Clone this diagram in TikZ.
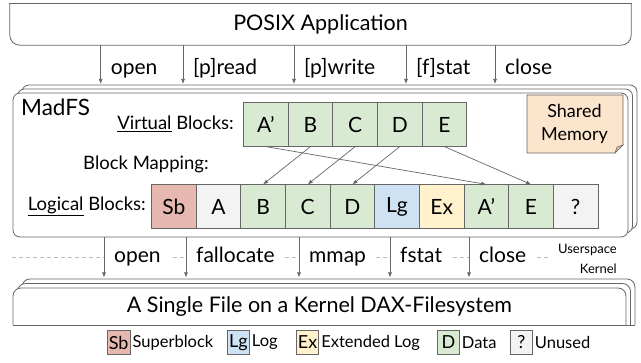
\documentclass[tikz,border=0pt]{standalone}
\usepackage{fontspec}
\setmainfont{Lato}
\usetikzlibrary{calc,arrows.meta}

\definecolor{edge}{HTML}{666666}
\definecolor{datafill}{HTML}{D9EAD3}
\definecolor{sbfill}{HTML}{E6B8AF}
\definecolor{lgfill}{HTML}{CFE2F3}
\definecolor{exfill}{HTML}{FFF2CC}
\definecolor{unfill}{HTML}{F3F3F3}
\definecolor{shmfill}{HTML}{FCE5CD}
\definecolor{shmfold}{HTML}{D9C3AC}
\definecolor{sepline}{HTML}{BBBBBB}

\tikzset{
  outline/.style={draw=edge, line width=0.8pt},
  blk/.style={draw=edge, line width=0.7pt, minimum width=44.65pt, minimum height=43.5pt,
              inner sep=0pt, font=\fontsize{21}{21}\selectfont},
  arr/.style={draw=edge, line width=0.7pt, -{Latex[length=5pt,width=4pt]}},
  call/.style={anchor=base west, inner xsep=10pt, inner ysep=1pt, font=\fontsize{21}{21}\selectfont},
  blabel/.style={font=\fontsize{18.5}{18.5}\selectfont, inner sep=0pt},
  bigtext/.style={font=\fontsize{21.5}{21.5}\selectfont},
  legbox/.style={draw=edge, line width=0.7pt, inner xsep=1.5pt, inner ysep=0pt,
                 minimum height=24pt, minimum width=22pt, anchor=west,
                 font=\fontsize{18}{18}\selectfont},
  legtext/.style={anchor=west, inner xsep=2pt, font=\fontsize{16.5}{16.5}\selectfont},
}

\begin{document}
\begin{tikzpicture}[x=1pt,y=-1pt]
\useasboundingbox (0,0) rectangle (641,363);

% ---------- application layer ----------
\node[bigtext, minimum width=621pt, minimum height=41pt] (posix) at (320.5,24.5) {};
\path[outline, fill=white, rounded corners=10pt]
  (posix.north west) -- (posix.south west) -- (posix.south east) -- (posix.north east);
\draw[outline, line cap=rect] (posix.north west) -- (posix.north east);
\node[bigtext] at (posix.center) {POSIX Application};

% ---------- MadFS (stacked) ----------
\draw[outline, fill=white, rounded corners=7pt] (22,85) rectangle (637,229);
\draw[outline, fill=white, rounded corners=7pt] (17.5,89) rectangle (632.5,233);
\node[outline, fill=white, rounded corners=7pt, minimum width=615pt, minimum height=144pt]
  (madfs) at (320.5,165) {};
\coordinate (madtop) at (320,84);

\node[anchor=base west, inner sep=0pt, font=\fontsize{22.5}{22.5}\selectfont] (madname) at (21,116) {MadFS};

\node[blabel, anchor=east] (vlab) at (234,124) {\underline{Virtual} Blocks:};
\node[blabel, anchor=west] (mlab) at (83,164) {Block Mapping:};
\node[blabel, anchor=east] (llab) at (146,206.5) {\underline{Logical} Blocks:};

% virtual blocks
\foreach \n/\t [count=\i from 0] in {vAp/A’, vB/B, vC/C, vD/D, vE/E}
  \node[blk, fill=datafill] (\n) at (265.85+44.65*\i,124.5) {\t};

% logical blocks
\foreach \n/\t/\c [count=\i from 0] in
  {lSb/Sb/sbfill, lA/A/unfill, lB/B/datafill, lC/C/datafill, lD/D/datafill,
   lLg/Lg/lgfill, lEx/Ex/exfill, lAp/A’/datafill, lE/E/datafill, lQ/?/unfill}
  \node[blk, fill=\c] (\n) at (173.8+44.65*\i,206.5) {\t};

% block mapping
\draw[arr] (vAp.south) -- (lAp.north);
\draw[arr] (vB.south) -- (lB.north);
\draw[arr] (vC.south) -- (lC.north);
\draw[arr] (vD.south) -- (lD.north);
\draw[arr] (vE.south) -- (lE.north);

% shared memory note
\filldraw[draw=edge, line width=0.7pt, fill=shmfill]
  (527,95) -- (623,95) -- (623,145) -- (615,153) -- (527,153) -- cycle;
\filldraw[draw=edge, line width=0.6pt, fill=shmfold]
  (623,145) -- (615,153) -- (617,147) -- cycle;
\node[align=center, font=\fontsize{18}{23}\selectfont, inner sep=0pt] (shm) at (574.5,124) {Shared\\Memory};

% ---------- calls into MadFS ----------
\node[call] (cOpen)  at (100.7,75) {open};
\node[call] (cRead)  at (183,75) {[p]read};
\node[call] (cWrite) at (294,75) {[p]write};
\node[call] (cStat)  at (406,75) {[f]stat};
\node[call] (cClose) at (495,75) {close};
\foreach \c in {cOpen,cRead,cWrite,cStat,cClose}
  \draw[arr] (posix.south -| \c.west) -- (madtop -| \c.west);

% ---------- kernel boundary ----------
\draw[sepline, line width=0.7pt, dash pattern=on 4pt off 3pt] (12,257) -- (548,257);
\node[anchor=east, inner sep=0pt, font=\fontsize{13}{13}\selectfont] (uspace) at (617,250) {Userspace};
\node[anchor=east, inner sep=0pt, font=\fontsize{13}{13}\selectfont] (kspace) at (617,268.5) {Kernel};

\node[call, fill=white] (kOpen)  at (104,263) {open};
\node[call, fill=white] (kFall)  at (186,263) {fallocate};
\node[call, fill=white] (kMmap)  at (299,263) {mmap};
\node[call, fill=white] (kFstat) at (390,263) {fstat};
\node[call, fill=white] (kClose) at (469,263) {close};

% ---------- file on the DAX filesystem (stacked) ----------
\path[outline, fill=white, rounded corners=8pt] (22,325) -- (22,279) -- (635,279) -- (635,325);
\path[outline, fill=white, rounded corners=8pt] (17.5,325) -- (17.5,283.5) -- (630.5,283.5) -- (630.5,325);
\coordinate (fileNW) at (13,288);
\coordinate (fileSE) at (626,325);
\path[outline, fill=white, rounded corners=8pt]
  (fileNW |- fileSE) -- (fileNW) -- (fileNW -| fileSE) -- (fileSE);
\node[bigtext, minimum width=613pt, minimum height=37pt]
  (file) at (319.5,306.5) {A Single File on a Kernel DAX-Filesystem};
\draw[outline, line cap=rect] (fileNW |- fileSE) -- (635,325);
\coordinate (filetop) at (320,277.5);

\foreach \c in {kOpen,kFall,kMmap,kFstat,kClose}
  \draw[arr] (madfs.south -| \c.west) -- (filetop -| \c.west);

% ---------- legend ----------
\node[legbox, fill=sbfill] (gSb) at (107,342.5) {Sb};
\node[legtext] (tSb) at (gSb.east) {Superblock};
\node[legbox, fill=lgfill] (gLg) at (227,342.5) {Lg};
\node[legtext] (tLg) at (gLg.east) {Log};
\node[legbox, fill=exfill] (gEx) at (296,342.5) {Ex};
\node[legtext] (tEx) at (gEx.east) {Extended Log};
\node[legbox, fill=datafill] (gD) at (437,342.5) {D};
\node[legtext] (tD) at (gD.east) {Data};
\node[legbox, fill=unfill] (gQ) at (510,342.5) {?};
\node[legtext] (tQ) at (gQ.east) {Unused};
\end{tikzpicture}
\end{document}
